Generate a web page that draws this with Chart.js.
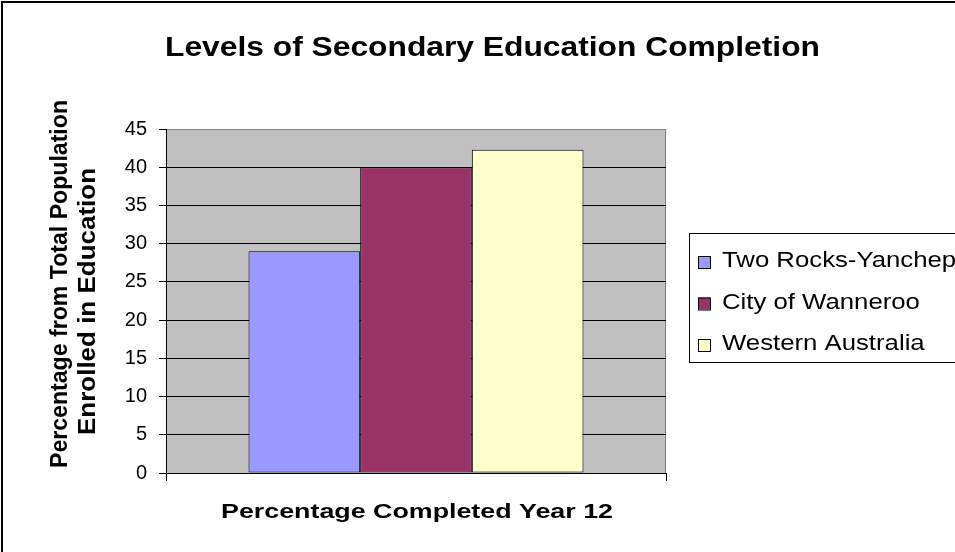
<!DOCTYPE html>
<html>
<head>
<meta charset="utf-8">
<title>Levels of Secondary Education Completion</title>
<script src="https://cdn.jsdelivr.net/npm/chart.js@4/dist/chart.umd.min.js"></script>
<style>
  html, body { margin: 0; padding: 0; background: #fff; }
  #wrap { width: 955px; height: 552px; position: relative; }
</style>
</head>
<body>
<div id="wrap"><canvas id="edu-chart" width="955" height="552"></canvas></div>
<script>
/* ============================================================
   Levels of Secondary Education Completion — bar chart
   ============================================================ */

// categories & series
const categories = [''];
const seriesNames = ['Two Rocks-Yanchep', 'City of Wanneroo', 'Western Australia'];
const twoRocksValues = [29.0];
const wannerooValues = [40.0];
const westernAusValues = [42.3];

// axis
const yMin = 0;
const yMax = 45;
const yStep = 5;

const chartTitle = 'Levels of Secondary Education Completion';
const xTitle = 'Percentage Completed Year 12';
const yTitleLines = ['Percentage from Total Population', 'Enrolled in Education'];

const COLORS = {
  twoRocks: '#9999FF',
  wanneroo: '#993366',
  westernAus: '#FFFFCC',
  plot: '#C0C0C0',
  plotBorder: '#808080',
};
const FONT = '"Liberation Sans", Arial, sans-serif';

/* ── text helper: the old Excel export is a bit wider than Arial,
      so stretch each string to the width it has in the picture ── */
function fitText(ctx, text, left, baseline, width) {
  const natural = ctx.measureText(text).width;
  ctx.save();
  ctx.translate(left, baseline);
  ctx.scale(width / natural, 1);
  ctx.fillText(text, 0, 0);
  ctx.restore();
}

/* ── background, frame, plot area ── */
const backdrop = {
  id: 'backdrop',
  beforeDraw(chart) {
    const { ctx, chartArea: a } = chart;
    ctx.save();
    ctx.fillStyle = '#fff';
    ctx.fillRect(0, 0, chart.width, chart.height);
    // outer frame (only top & left are visible in the crop)
    ctx.fillStyle = '#000';
    ctx.fillRect(1, 1, chart.width - 1, 2);
    ctx.fillRect(1, 1, 2, chart.height - 1);
    // plot area
    ctx.fillStyle = COLORS.plot;
    ctx.fillRect(a.left, a.top, a.right - a.left, a.bottom - a.top);
    ctx.strokeStyle = COLORS.plotBorder;
    ctx.lineWidth = 1;
    ctx.strokeRect(a.left + 0.5, a.top + 0.5, a.right - a.left - 1, a.bottom - a.top);
    ctx.restore();
  }
};

/* ── titles and legend ── */
const labels = {
  id: 'labels',
  afterDraw(chart) {
    const { ctx } = chart;
    ctx.save();
    ctx.fillStyle = '#000';
    ctx.textAlign = 'left';
    ctx.textBaseline = 'alphabetic';

    ctx.font = 'bold 27px ' + FONT;
    fitText(ctx, chartTitle, 165, 56, 655);

    ctx.font = 'bold 21px ' + FONT;
    fitText(ctx, xTitle, 221, 518, 392);

    // rotated y title, two lines
    ctx.font = 'bold 23px ' + FONT;
    const rows = [
      { x: 67, bottom: 468, len: 368 },
      { x: 95, bottom: 435, len: 267 },
    ];
    yTitleLines.forEach((line, i) => {
      ctx.save();
      ctx.translate(rows[i].x, rows[i].bottom);
      ctx.rotate(-Math.PI / 2);
      fitText(ctx, line, 0, 0, rows[i].len);
      ctx.restore();
    });

    // legend box
    ctx.strokeStyle = '#000';
    ctx.lineWidth = 1;
    ctx.strokeRect(689.5, 233.5, 300, 129);
    ctx.font = '22px ' + FONT;
    const stretch = 1.17;
    chart.data.datasets.forEach((ds, i) => {
      const base = 267 + i * 41.5;
      ctx.fillStyle = ds.backgroundColor;
      ctx.fillRect(698, base - 11, 12, 12);
      ctx.strokeStyle = '#000';
      ctx.strokeRect(698.5, base - 10.5, 12, 12);
      ctx.fillStyle = '#000';
      fitText(ctx, ds.label, 722, base, ctx.measureText(ds.label).width * stretch);
    });
    ctx.restore();
  }
};

function makeDataset(label, data, color) {
  return {
    label,
    data,
    backgroundColor: color,
    borderColor: '#000',
    borderWidth: 1,
    borderSkipped: false,
    categoryPercentage: 0.67,
    barPercentage: 1.0,
  };
}

new Chart(document.getElementById('edu-chart'), {
  type: 'bar',
  data: {
    labels: categories,
    datasets: [
      makeDataset(seriesNames[0], twoRocksValues, COLORS.twoRocks),
      makeDataset(seriesNames[1], wannerooValues, COLORS.wanneroo),
      makeDataset(seriesNames[2], westernAusValues, COLORS.westernAus),
    ]
  },
  options: {
    responsive: false,
    animation: false,
    devicePixelRatio: 1,
    layout: { padding: { left: 0, top: 129, right: 289, bottom: 0 } },
    plugins: {
      legend: { display: false },
      title: { display: false },
      tooltip: { enabled: false },
    },
    scales: {
      x: {
        offset: true,
        afterFit: (scale) => { scale.height = 79; },
        grid: { drawOnChartArea: false, drawTicks: true, tickLength: 8, tickColor: '#000', color: '#000' },
        border: { display: true, color: '#000', width: 1 },
        ticks: { display: false },
      },
      y: {
        min: yMin,
        max: yMax,
        afterFit: (scale) => { scale.width = 166; },
        ticks: {
          stepSize: yStep,
          padding: 12,
          color: '#000',
          font: { family: FONT, size: 20 },
        },
        grid: {
          color: (c) => (c.tick && c.tick.value === yMax ? COLORS.plotBorder : '#000'),
          tickColor: '#000',
          tickLength: 7,
          lineWidth: 1,
        },
        border: { display: true, color: '#000', width: 1 },
      }
    }
  },
  plugins: [backdrop, labels]
});
</script>
</body>
</html>
